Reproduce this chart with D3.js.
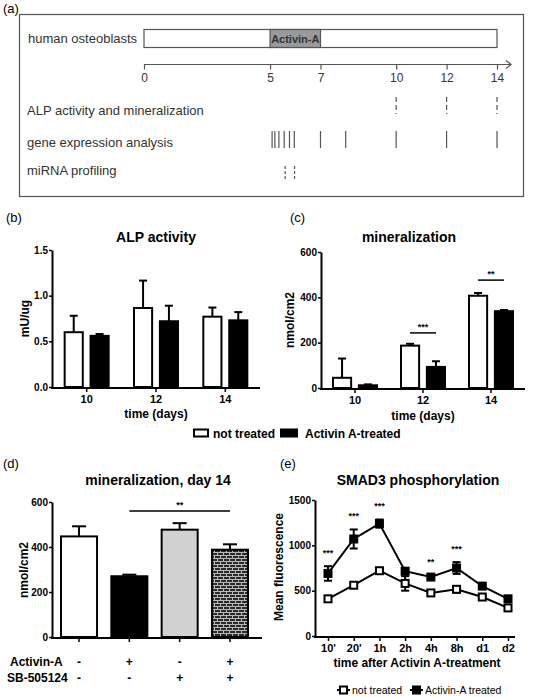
<!DOCTYPE html>
<html><head><meta charset="utf-8">
<script src="https://cdn.jsdelivr.net/npm/d3@7"></script>
<style>body{margin:0;background:#fff} text{font-family:"Liberation Sans",Arial,sans-serif}</style>
</head><body><svg id="c" width="534" height="697"></svg>
<script>
// ---------- data ----------
const timelineTicks = [0, 5, 7, 10, 12, 14];
const activinPeriod = [5, 7];
const alpDays = [10, 12, 14];
const geneDays = [5.08, 5.19, 5.35, 5.56, 5.77, 5.96, 7, 8, 10, 12, 14];
const mirnaDays = [5.6, 5.97];
const rowLabels = ["ALP activity and mineralization", "gene expression analysis", "miRNA profiling"];

const dayGroups = ["10", "12", "14"];
const seriesNames = ["not treated", "Activin A-treated"];
const alpNot = [0.60, 0.865, 0.77], alpNotErr = [0.18, 0.30, 0.10];
const alpAct = [0.56, 0.72, 0.73], alpActErr = [0.02, 0.17, 0.09];
const alpTicks = [0, 0.5, 1.0, 1.5];
const minNot = [45, 187, 407], minNotErr = [85, 8, 12];
const minAct = [12, 93, 339], minActErr = [4, 25, 5];
const minTicks = [0, 200, 400, 600];
const minSigGroups = ["12", "14"], minSigLabels = ["***", "**"], minSigLevel = [243, 476];

const d14Bars = ["ctrl", "act", "sb", "actsb"];
const d14Vals = [447, 270, 477, 388], d14Err = [45, 7, 29, 24];
const d14Activin = ["-", "+", "-", "+"], d14SB = ["-", "-", "+", "+"];
const d14Sig = {from: "act", to: "actsb", level: 560, label: "**"};

const smadCats = ["10'", "20'", "1h", "2h", "4h", "8h", "d1", "d2"];
const smadSeries = ["not treated", "Activin-A treated"];
const smadAct = [690, 1070, 1240, 715, 650, 750, 550, 410];
const smadActErr = [80, 105, 45, 30, 25, 65, 15, 20];
const smadNot = [410, 560, 720, 580, 475, 515, 430, 310];
const smadNotErr = [15, 20, 20, 80, 20, 35, 10, 15];
const smadSig = ["***", "***", "***", "", "**", "***", "", ""];
const smadTicks = [0, 500, 1000, 1500];

// ---------- helpers ----------
const svg = d3.select("#c");
svg.append("rect").attr("width", 534).attr("height", 697).attr("fill", "#fff");
const FONT = '"Liberation Sans",Arial,sans-serif';

const defs = svg.append("defs");
const pat = defs.append("pattern").attr("id", "brick").attr("patternUnits", "userSpaceOnUse")
  .attr("width", 6).attr("height", 6);
pat.append("rect").attr("width", 6).attr("height", 6).attr("fill", "#2a2a2a");
pat.append("path").attr("d", "M0,0.5H6M0,3.5H6M1.5,0V3.5M4.5,3.5V6")
  .attr("stroke", "#b8b8b8").attr("stroke-width", 1).attr("fill", "none");

function txt(g, x, y, s, o = {}) {
  return g.append("text").attr("x", x).attr("y", y).text(s)
    .attr("font-size", o.size || 12).attr("font-weight", o.bold ? "bold" : "normal")
    .attr("text-anchor", o.anchor || "start").attr("fill", o.fill || "#000");
}
function yAxis(g, scale, ticks, fmt, x) {
  const a = g.append("g").attr("transform", `translate(${x},0)`)
    .call(d3.axisLeft(scale).tickValues(ticks).tickFormat(fmt).tickSize(3).tickSizeOuter(0).tickPadding(1));
  a.select(".domain").attr("stroke", "#000").attr("stroke-width", 2);
  a.selectAll(".tick line").attr("stroke", "#000").attr("stroke-width", 1.5);
  a.selectAll(".tick text").attr("font-family", FONT).attr("font-weight", "bold").attr("font-size", 10).attr("fill", "#000");
  return a;
}
function xAxis(g, scale, y, x0, x1, size) {
  const a = g.append("g").attr("transform", `translate(0,${y})`)
    .call(d3.axisBottom(scale).tickSize(4).tickSizeOuter(0).tickPadding(3));
  a.select(".domain").remove();
  a.append("line").attr("x1", x0).attr("x2", x1).attr("stroke", "#000").attr("stroke-width", 2);
  a.selectAll(".tick line").attr("stroke", "#000").attr("stroke-width", 1.5);
  a.selectAll(".tick text").attr("font-family", FONT).attr("font-weight", "bold").attr("font-size", size || 11).attr("fill", "#000");
  return a;
}
function errBar(g, x, yTop, yVal, cap) {
  g.append("line").attr("x1", x).attr("x2", x).attr("y1", yVal).attr("y2", yTop).attr("stroke", "#000").attr("stroke-width", 2);
  g.append("line").attr("x1", x - cap).attr("x2", x + cap).attr("y1", yTop).attr("y2", yTop).attr("stroke", "#000").attr("stroke-width", 2);
}
function ylabel(g, x, y, s) {
  g.append("text").attr("transform", `translate(${x},${y}) rotate(-90)`).text(s)
    .attr("font-size", 12).attr("font-weight", "bold").attr("text-anchor", "middle");
}

// ---------- panel (a) ----------
{
  const g = svg.append("g");
  txt(g, 3, 13, "(a)", {size: 13});
  g.append("rect").attr("x", 19.5).attr("y", 14.5).attr("width", 504).attr("height", 182)
    .attr("fill", "none").attr("stroke", "#555").attr("stroke-width", 1.2);
  const xa = d3.scaleLinear().domain([0, 14]).range([144, 497]);
  g.append("rect").attr("x", xa(0)).attr("y", 29.5).attr("width", xa(14) - xa(0)).attr("height", 18)
    .attr("fill", "#fff").attr("stroke", "#555").attr("stroke-width", 1.2);
  g.append("rect").attr("x", xa(activinPeriod[0])).attr("y", 29.5)
    .attr("width", xa(activinPeriod[1]) - xa(activinPeriod[0])).attr("height", 18)
    .attr("fill", "#9a9a9a").attr("stroke", "#555").attr("stroke-width", 1.2);
  txt(g, (xa(activinPeriod[0]) + xa(activinPeriod[1])) / 2, 43, "Activin-A", {size: 11, bold: true, anchor: "middle", fill: "#333"});
  txt(g, 28, 43, "human osteoblasts", {size: 13, fill: "#333"});
  const ax = g.append("g").attr("transform", "translate(0,64.5)")
    .call(d3.axisBottom(xa).tickValues(timelineTicks).tickSize(5).tickSizeOuter(0).tickPadding(4));
  ax.select(".domain").remove();
  ax.append("line").attr("x1", xa(0)).attr("x2", 511).attr("stroke", "#555").attr("stroke-width", 1.2);
  ax.append("path").attr("d", "M506,-4L511,0L506,4").attr("fill", "none").attr("stroke", "#555").attr("stroke-width", 1.2);
  ax.selectAll(".tick line").attr("stroke", "#555").attr("stroke-width", 1.2);
  ax.selectAll(".tick text").attr("font-family", FONT).attr("font-size", 12).attr("fill", "#333");
  const rowY = [111, 143, 171];
  rowLabels.forEach((s, i) => txt(g, 27, rowY[i] + 4, s, {size: 13, fill: "#333"}));
  g.selectAll(".alp").data(alpDays).join("line").attr("x1", d => xa(d)).attr("x2", d => xa(d))
    .attr("y1", 97).attr("y2", 114).attr("stroke", "#555").attr("stroke-width", 1.2).attr("stroke-dasharray", "5,3");
  g.selectAll(".gene").data(geneDays).join("line").attr("x1", d => xa(d)).attr("x2", d => xa(d))
    .attr("y1", 131).attr("y2", 148).attr("stroke", "#555").attr("stroke-width", 1.2);
  g.selectAll(".mir").data(mirnaDays).join("line").attr("x1", d => xa(d)).attr("x2", d => xa(d))
    .attr("y1", 166).attr("y2", 179).attr("stroke", "#555").attr("stroke-width", 1.2).attr("stroke-dasharray", "3,2");
}

// ---------- grouped bar panels (b), (c) ----------
function groupedPanel(o) {
  const g = svg.append("g");
  txt(g, o.labX, o.labY, o.label, {size: 13});
  txt(g, o.titleX, o.titleY, o.title, {size: 14, bold: true, anchor: "middle"});
  const y = d3.scaleLinear().domain(o.yDomain).range(o.yRange);
  const x0 = d3.scaleBand().domain(dayGroups).range(o.xRange);
  const x1 = d3.scaleBand().domain(seriesNames).range([-22, 22]).paddingInner(0.3);
  const series = [{name: seriesNames[0], v: o.not, e: o.notErr, fill: "#fff"},
                  {name: seriesNames[1], v: o.act, e: o.actErr, fill: "#000"}];
  series.forEach(s => {
    dayGroups.forEach((d, i) => {
      const cx = x0(d) + x0.bandwidth() / 2 + x1(s.name) + x1.bandwidth() / 2;
      errBar(g, cx, y(s.v[i] + s.e[i]), y(s.v[i]), 4);
      g.append("rect").attr("x", x0(d) + x0.bandwidth() / 2 + x1(s.name)).attr("y", y(s.v[i]))
        .attr("width", x1.bandwidth()).attr("height", y(0) - y(s.v[i]))
        .attr("fill", s.fill).attr("stroke", "#000").attr("stroke-width", 2);
    });
  });
  yAxis(g, y, o.ticks, o.fmt, o.xRange[0]);
  xAxis(g, x0, y(0) + 1, o.xRange[0] - 1, o.xRange[1], 11);
  ylabel(g, o.ylabX, (o.yRange[0] + o.yRange[1]) / 2, o.ylabel);
  txt(g, (o.xRange[0] + o.xRange[1]) / 2, o.xlabY, "time (days)", {size: 12, bold: true, anchor: "middle"});
  if (o.sig) {
    o.sig.groups.forEach((gr, i) => {
      const xa = x0(gr) + x0.bandwidth() / 2 + x1(seriesNames[0]) + x1.bandwidth() / 2;
      const xb = x0(gr) + x0.bandwidth() / 2 + x1(seriesNames[1]) + x1.bandwidth() / 2;
      const yy = y(o.sig.levels[i]);
      g.append("line").attr("x1", xa).attr("x2", xb).attr("y1", yy).attr("y2", yy).attr("stroke", "#000").attr("stroke-width", 1.5);
      txt(g, (xa + xb) / 2, yy - 3, o.sig.labels[i], {size: 9, bold: true, anchor: "middle"});
    });
  }
}
groupedPanel({label: "(b)", labX: 6, labY: 222, title: "ALP activity", titleX: 156, titleY: 242,
  yDomain: [0, 1.5], yRange: [387, 250], xRange: [52, 260], ticks: alpTicks, fmt: d3.format(".1f"),
  not: alpNot, notErr: alpNotErr, act: alpAct, actErr: alpActErr, ylabel: "mU/ug", ylabX: 29, xlabY: 418});
groupedPanel({label: "(c)", labX: 290, labY: 222, title: "mineralization", titleX: 409, titleY: 242,
  yDomain: [0, 600], yRange: [388, 252], xRange: [321, 525], ticks: minTicks, fmt: d3.format("d"),
  not: minNot, notErr: minNotErr, act: minAct, actErr: minActErr, ylabel: "nmol/cm2", ylabX: 294, xlabY: 420,
  sig: {groups: minSigGroups, labels: minSigLabels, levels: minSigLevel}});

// legend (b)/(c)
{
  const g = svg.append("g");
  g.append("rect").attr("x", 194).attr("y", 429.5).attr("width", 14).attr("height", 7).attr("fill", "#fff").attr("stroke", "#000").attr("stroke-width", 2);
  txt(g, 213, 438, seriesNames[0], {size: 12, bold: true});
  g.append("rect").attr("x", 281).attr("y", 429.5).attr("width", 16).attr("height", 7).attr("fill", "#000").attr("stroke", "#000").attr("stroke-width", 2);
  txt(g, 305, 438, seriesNames[1], {size: 12, bold: true});
}

// ---------- panel (d) ----------
{
  const g = svg.append("g");
  txt(g, 3, 468, "(d)", {size: 13});
  txt(g, 158, 485, "mineralization, day 14", {size: 14, bold: true, anchor: "middle"});
  const y = d3.scaleLinear().domain([0, 600]).range([637, 502]);
  const x = d3.scaleBand().domain(d14Bars).range([52, 257]).paddingInner(0.284).paddingOuter(0.179);
  const fills = ["#fff", "#000", "#d2d2d2", "url(#brick)"];
  d14Bars.forEach((b, i) => {
    const cx = x(b) + x.bandwidth() / 2;
    errBar(g, cx, y(d14Vals[i] + d14Err[i]), y(d14Vals[i]), 7);
    g.append("rect").attr("x", x(b)).attr("y", y(d14Vals[i])).attr("width", x.bandwidth())
      .attr("height", y(0) - y(d14Vals[i])).attr("fill", fills[i]).attr("stroke", "#000").attr("stroke-width", 2);
  });
  yAxis(g, y, minTicks, d3.format("d"), 52);
  const xa = xAxis(g, x, y(0) + 1, 51, 262, 11);
  xa.selectAll(".tick text").remove();
  ylabel(g, 28, 570, "nmol/cm2");
  const xs = x(d14Sig.from) + x.bandwidth() / 2, xe = x(d14Sig.to) + x.bandwidth() / 2;
  g.append("line").attr("x1", xs).attr("x2", xe).attr("y1", y(d14Sig.level)).attr("y2", y(d14Sig.level)).attr("stroke", "#000").attr("stroke-width", 1.5);
  txt(g, (xs + xe) / 2, y(d14Sig.level) - 3, d14Sig.label, {size: 9, bold: true, anchor: "middle"});
  txt(g, 10, 666, "Activin-A", {size: 12, bold: true});
  txt(g, 7, 682, "SB-505124", {size: 12, bold: true});
  d14Bars.forEach((b, i) => {
    const cx = x(b) + x.bandwidth() / 2;
    txt(g, cx, 666, d14Activin[i], {size: 12, bold: true, anchor: "middle"});
    txt(g, cx, 682, d14SB[i], {size: 12, bold: true, anchor: "middle"});
  });
}

// ---------- panel (e) ----------
{
  const g = svg.append("g");
  txt(g, 280, 468, "(e)", {size: 13});
  txt(g, 418, 485, "SMAD3 phosphorylation", {size: 14, bold: true, anchor: "middle"});
  const y = d3.scaleLinear().domain([0, 1500]).range([636, 500]);
  const x = d3.scalePoint().domain(smadCats).range([328, 508]);
  yAxis(g, y, smadTicks, d3.format("d"), 315);
  xAxis(g, x, 637, 314, 515, 11);
  ylabel(g, 283, 567, "Mean fluorescence");
  txt(g, 417, 667, "time after Activin A-treatment", {size: 12, bold: true, anchor: "middle"});
  const line = d3.line().x((d, i) => x(smadCats[i])).y(d => y(d));
  [[smadNot, smadNotErr, "#fff"], [smadAct, smadActErr, "#000"]].forEach(([v, e, f]) => {
    g.append("path").attr("d", line(v)).attr("fill", "none").attr("stroke", "#000").attr("stroke-width", 2);
    v.forEach((d, i) => {
      const cx = x(smadCats[i]);
      g.append("line").attr("x1", cx).attr("x2", cx).attr("y1", y(d - e[i])).attr("y2", y(d + e[i])).attr("stroke", "#000").attr("stroke-width", 2);
      [d - e[i], d + e[i]].forEach(t => g.append("line").attr("x1", cx - 4).attr("x2", cx + 4).attr("y1", y(t)).attr("y2", y(t)).attr("stroke", "#000").attr("stroke-width", 2));
    });
    v.forEach((d, i) => {
      g.append("rect").attr("x", x(smadCats[i]) - 3.5).attr("y", y(d) - 3.5).attr("width", 7).attr("height", 7)
        .attr("fill", f).attr("stroke", "#000").attr("stroke-width", 2);
    });
  });
  smadSig.forEach((s, i) => {
    if (s) txt(g, x(smadCats[i]), y(smadAct[i] + smadActErr[i]) - 10, s, {size: 9, bold: true, anchor: "middle"});
  });
  // legend
  const lg = [[337, smadSeries[0], "#fff"], [410, smadSeries[1], "#000"]];
  lg.forEach(([lx, s, f]) => {
    g.append("line").attr("x1", lx).attr("x2", lx + 13).attr("y1", 690).attr("y2", 690).attr("stroke", "#000").attr("stroke-width", 2);
    g.append("rect").attr("x", lx + 3).attr("y", 686.5).attr("width", 7).attr("height", 7).attr("fill", f).attr("stroke", "#000").attr("stroke-width", 2);
    txt(g, lx + 15, 694, s, {size: 10.5});
  });
}
</script></body></html>
